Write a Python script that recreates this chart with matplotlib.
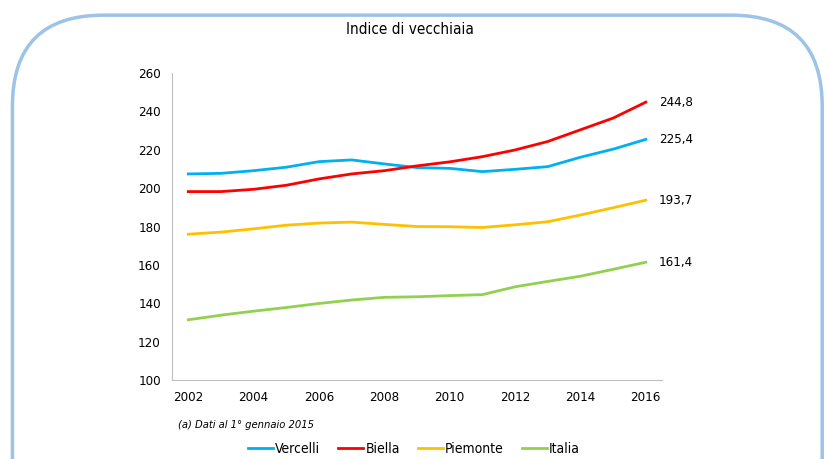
import matplotlib.pyplot as plt
from matplotlib.patches import FancyBboxPatch
import numpy as np

# data
anni = list(range(2002, 2017))
vercelli = [207.4, 207.7, 209.1, 210.9, 213.8, 214.7, 212.6, 210.7, 210.3, 208.6, 209.8, 211.2, 216.1, 220.3, 225.4]
biella = [198.2, 198.2, 199.4, 201.5, 204.8, 207.4, 209.1, 211.6, 213.7, 216.4, 219.9, 224.3, 230.4, 236.5, 244.8]
piemonte = [176.0, 177.1, 178.8, 180.7, 181.8, 182.3, 181.1, 180.0, 179.9, 179.5, 180.9, 182.5, 186.0, 189.8, 193.7]
italia = [131.4, 133.8, 135.9, 137.8, 139.9, 141.7, 143.1, 143.4, 144.0, 144.5, 148.6, 151.4, 154.1, 157.7, 161.4]

serie = [("Vercelli", vercelli, "#00B0F0"),
         ("Biella", biella, "#FF0000"),
         ("Piemonte", piemonte, "#FFC000"),
         ("Italia", italia, "#92D050")]

plt.rcParams['font.family'] = ['DejaVu Sans']
plt.rcParams['font.stretch'] = 'condensed'

fig = plt.figure(figsize=(8.28, 4.59), dpi=100)

# rounded light-blue frame (goes below the bottom edge, as in the reference)
box = FancyBboxPatch((0.015, -0.4), 0.978, 1.367, boxstyle="round,pad=0,rounding_size=0.11",
                     transform=fig.transFigure, facecolor="none", edgecolor="#9DC3E6",
                     linewidth=2.5, mutation_aspect=828 / 459, zorder=-1)
fig.patches.append(box)

ax = fig.add_axes([0.2077, 0.172, 0.592, 0.669])
ax.patch.set_alpha(0)
for nome, valori, col in serie:
    ax.plot(anni, valori, color=col, linewidth=2.0, label=nome)
    ax.text(anni[-1] + 0.4, valori[-1], f"{valori[-1]:.1f}".replace(".", ","),
            va="center", ha="left", fontsize=9.5)

ax.set_xlim(2001.5, 2016.5)
ax.set_ylim(100, 260)
ax.set_xticks(np.arange(2002, 2017, 2))
ax.set_yticks(np.arange(100, 261, 20))
ax.tick_params(length=0, labelsize=9.5, pad=8)
ax.spines['top'].set_visible(False)
ax.spines['right'].set_visible(False)
ax.spines['left'].set_color("#BFBFBF")
ax.spines['bottom'].set_color("#BFBFBF")

fig.text(0.495, 0.935, "Indice di vecchiaia", ha="center", va="center", fontsize=11)
fig.text(0.215, 0.075, "(a) Dati al 1° gennaio 2015", ha="left", va="center",
         fontsize=8, style="italic")

fig.legend(loc="center", bbox_to_anchor=(0.5, 0.022), ncol=4, frameon=False,
           fontsize=10, handlelength=1.8, handletextpad=0.15, columnspacing=1.3)

fig.savefig("out.png", dpi=100)
